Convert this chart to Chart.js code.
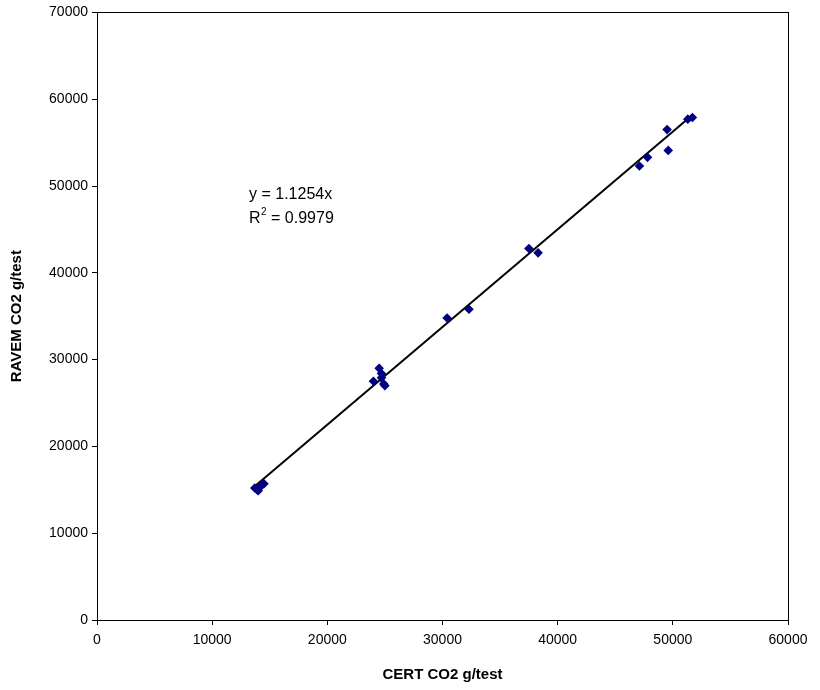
<!DOCTYPE html>
<html>
<head>
<meta charset="utf-8">
<script src="https://cdn.jsdelivr.net/npm/chart.js@4/dist/chart.umd.min.js"></script>
<style>
html,body{margin:0;padding:0;background:#fff;}
#c{display:block;}
</style>
</head>
<body>
<canvas id="c" width="820" height="690"></canvas>
<script>
const certX = [13700, 13900, 14100, 14300, 14500, 14000,
               24000, 24500, 24700, 24700, 24900, 25000,
               30400, 32300,
               37500, 38300,
               47100, 47800, 49500, 49600, 51300, 51700];
const ravemY = [15200, 15000, 15300, 15500, 15700, 14900,
                27500, 29000, 28400, 27900, 27200, 27000,
                34800, 35800,
                42800, 42300,
                52300, 53300, 56500, 54100, 57700, 57900];
const trendX = [13700, 51700];
const trendY = [15420, 58180];
const equationLines = ['y = 1.1254x', 'R', '2', ' = 0.9979'];

const points = certX.map((x, i) => ({x: x, y: ravemY[i]}));
const trend = trendX.map((x, i) => ({x: x, y: trendY[i]}));

const FONT = 'Liberation Sans, Arial, sans-serif';

const framePlugin = {
  id: 'frame',
  afterDraw(chart) {
    const {ctx, chartArea: a} = chart;
    ctx.save();
    ctx.strokeStyle = '#000';
    ctx.lineWidth = 1;
    ctx.strokeRect(Math.round(a.left) + 0.5, Math.round(a.top) + 0.5,
                   Math.round(a.right - a.left), Math.round(a.bottom - a.top));
    // equation text
    ctx.fillStyle = '#000';
    ctx.font = '16px ' + FONT;
    ctx.textBaseline = 'alphabetic';
    const tx = 249;
    ctx.fillText(equationLines[0], tx, 199);
    ctx.fillText(equationLines[1], tx, 223);
    const rw = ctx.measureText(equationLines[1]).width;
    ctx.font = '10px ' + FONT;
    ctx.fillText(equationLines[2], tx + rw + 0.5, 215);
    const sw = ctx.measureText(equationLines[2]).width;
    ctx.font = '16px ' + FONT;
    ctx.fillText(equationLines[3], tx + rw + sw + 0.5, 223);
    ctx.restore();
  }
};

new Chart(document.getElementById('c'), {
  type: 'scatter',
  data: {
    datasets: [
      {
        data: trend,
        type: 'line',
        showLine: true,
        borderColor: '#000',
        borderWidth: 2,
        pointRadius: 0,
        fill: false,
        order: 2
      },
      {
        data: points,
        pointStyle: 'rectRot',
        pointRadius: 4.8,
        pointHoverRadius: 4.8,
        backgroundColor: '#000080',
        borderColor: '#000080',
        borderWidth: 0,
        order: 1
      }
    ]
  },
  options: {
    responsive: false,
    animation: false,
    devicePixelRatio: 1,
    layout: {padding: {left: 0, top: 12, right: 32, bottom: 0}},
    plugins: {legend: {display: false}, tooltip: {enabled: false}},
    scales: {
      x: {
        type: 'linear',
        min: 0, max: 60000,
        afterFit(s) { s.height = 70; },
        ticks: {stepSize: 10000, color: '#000', padding: 7, font: {family: FONT, size: 14}, maxRotation: 0,
                callback: (v) => String(v)},
        grid: {drawOnChartArea: false, drawTicks: true, tickLength: 5, color: '#000'},
        border: {display: true, color: '#000'},
        title: {display: true, text: 'CERT CO2 g/test', color: '#000', font: {family: FONT, size: 15, weight: 'bold'}, padding: {top: 0, bottom: 6}}
      },
      y: {
        type: 'linear',
        min: 0, max: 70000,
        afterFit(s) { s.width = 97; },
        ticks: {stepSize: 10000, color: '#000', padding: 4, font: {family: FONT, size: 14},
                callback: (v) => String(v)},
        grid: {drawOnChartArea: false, drawTicks: true, tickLength: 5, color: '#000'},
        border: {display: true, color: '#000'},
        title: {display: true, text: 'RAVEM CO2 g/test', color: '#000', font: {family: FONT, size: 15, weight: 'bold'}, padding: {top: 8, bottom: 0}}
      }
    }
  },
  plugins: [framePlugin]
});
</script>
</body>
</html>
